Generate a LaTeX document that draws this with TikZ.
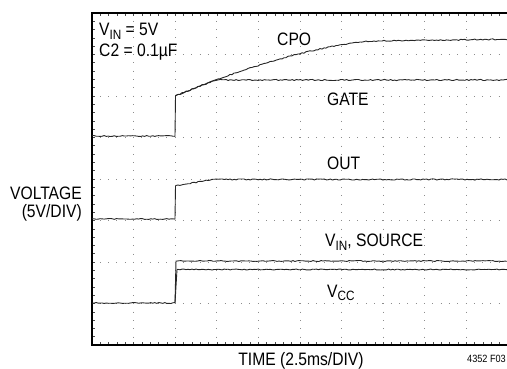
\documentclass[tikz,border=0pt]{standalone}
\usepackage{fontspec}
\setmainfont[FakeStretch=0.87]{Liberation Sans}
\usepackage{tikz}
\newcommand\sbs[1]{\raisebox{-0.2em}{\fontsize{13.5}{13.5}\selectfont #1}}

\begin{document}
\begin{tikzpicture}[x=1pt, y=-1pt,
    lbl/.style={inner sep=0pt, font=\fontsize{18}{18}\selectfont},
    tag/.style={inner sep=0pt, font=\fontsize{10.5}{10.5}\selectfont},
    trace/.style={line width=0.9pt, black!85, line join=round},
    dots/.style={black!45, line width=0.9pt, dash pattern=on 0.9pt off 7.41pt, dash phase=0.45pt},
    tick/.style={black!70, line width=0.6pt},
    declare function={cpo(\t)=41+55*(1-(\t-175)/200)^1.5;}]
  \useasboundingbox (0,0) rectangle (507,369);
  \pgfmathsetseed{4352}
  % Grid
  \foreach \i in {1,...,9} \draw[dots] (92+41.6*\i,13) -- (92+41.6*\i,345);
  \foreach \j in {1,...,7} \draw[dots] (92,13+41.5*\j) -- (508,13+41.5*\j);
  \foreach \k in {1,...,49} {\draw[tick] (92+8.32*\k,13) -- ++(0,3); \draw[tick] (92+8.32*\k,345) -- ++(0,-3);}
  \foreach \k in {1,...,39} \draw[tick] (92,13+8.3*\k) -- ++(3,0);
  \draw[line width=1.1pt] (508,13) -- (92,13) -- (92,345) -- (508,345);
  % Traces
  \draw[trace] plot[domain=92:175, samples=42] (\x,{136+0.5*rand}) -- (175.5,96)
    -- plot[domain=176:374, samples=100] (\x,{cpo(\x)+0.6*rand})
    -- plot[domain=376:507, samples=66] (\x,{41-0.013*(\x-375)+0.6*rand});
  \draw[trace] (175.5,96) -- plot[domain=176:507, samples=166] (\x,{max(80,cpo(min(\x,374)))+0.6*rand});
  \draw[trace] plot[domain=92:175, samples=42] (\x,{219+0.5*rand}) -- (175.5,186)
    -- plot[domain=176:507, samples=166] (\x,{max(179.5,186-0.17*(\x-175))+0.6*rand});
  \draw[trace] plot[domain=92:175, samples=42] (\x,{303+0.5*rand}) -- (176,261)
    -- plot[domain=177:507, samples=166] (\x,{261+0.5*rand});
  \draw[trace] (175,303) -- (177,269.5) -- plot[domain=178:507, samples=165] (\x,{269.5+0.5*rand});
  % Labels
  \node[lbl, anchor=base west] (vin) at (99,35.5) {V\sbs{IN} = 5V};
  \node[lbl, anchor=base west] (ctwo) at (99,56.5) {C2 = 0.1µF};
  \node[lbl, anchor=base west] (cpo) at (277,45.5) {CPO};
  \node[lbl, anchor=base west] (gate) at (327,106) {GATE};
  \node[lbl, anchor=base west] (out) at (327,170) {OUT};
  \node[lbl, anchor=base west] (source) at (325,246.5) {V\sbs{IN}, SOURCE};
  \node[lbl, anchor=base west] (vcc) at (327,297) {V\sbs{CC}};
  \node[lbl, anchor=base east] (volt) at (82,200) {VOLTAGE};
  \node[lbl, anchor=base east] (scale) at (82,217.5) {(5V/DIV)};
  \node[lbl, anchor=base] (time) at (301,365) {TIME (2.5ms/DIV)};
  \node[tag, anchor=base east] (fig) at (506,362) {4352 F03};
\end{tikzpicture}
\end{document}
